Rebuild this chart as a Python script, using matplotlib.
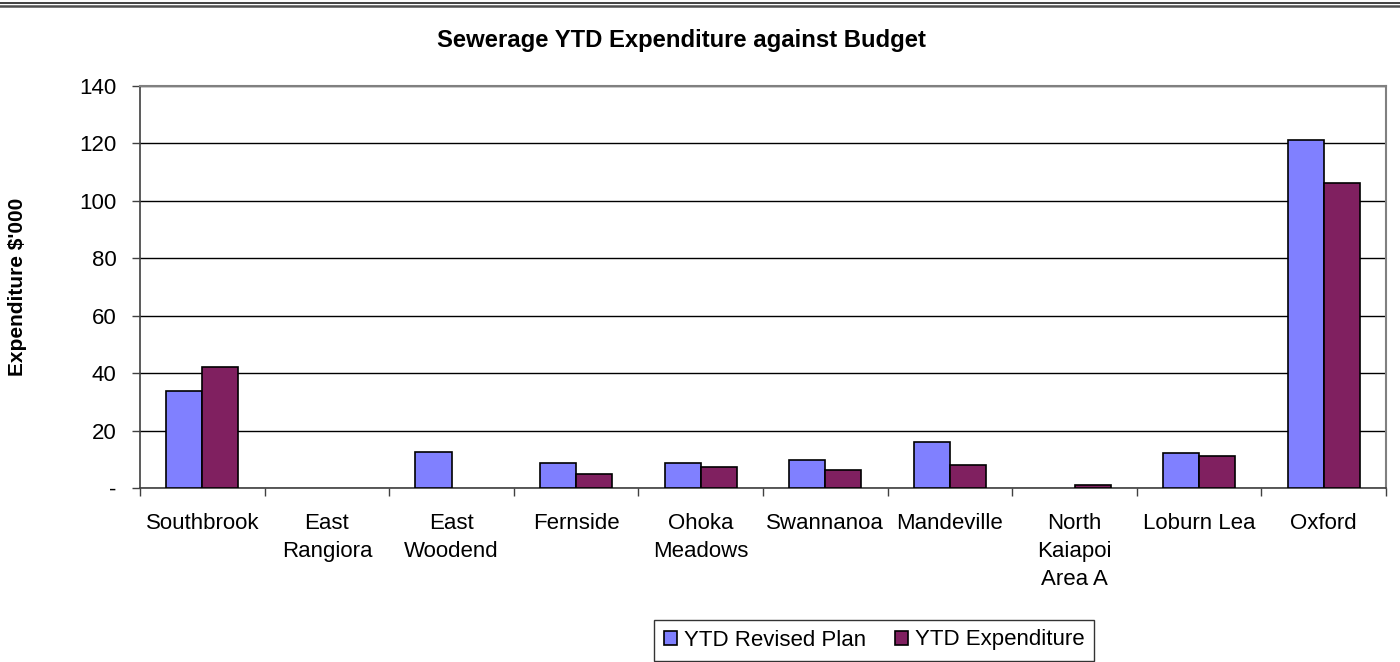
import matplotlib
matplotlib.use("Agg")
import matplotlib.pyplot as plt
import numpy as np
from matplotlib.lines import Line2D

plt.rcParams['font.family'] = ['Liberation Sans', 'DejaVu Sans']

schemes = ["Southbrook", "East\nRangiora", "East\nWoodend", "Fernside", "Ohoka\nMeadows",
           "Swannanoa", "Mandeville", "North\nKaiapoi\nArea A", "Loburn Lea", "Oxford"]
revised_plan = [33.8, 0, 12.5, 8.7, 8.7, 9.8, 16.0, 0, 12.2, 121.2]
expenditure = [42.1, 0, 0, 4.9, 7.3, 6.3, 8.0, 1.0, 11.1, 106.2]
y_ticks = [0, 20, 40, 60, 80, 100, 120, 140]
y_tick_labels = ["-", "20", "40", "60", "80", "100", "120", "140"]

plan_color = "#8080FF"
exp_color = "#802060"

fig = plt.figure(figsize=(14, 6.62), dpi=100)
ax = fig.add_axes([140/1400, 1 - 488/662, (1386 - 140)/1400, (488 - 86)/662])

x = np.arange(len(schemes))
w = 0.29


def draw_series(offset, values, color, label):
    # zero entries get no bar at all (not even an outline)
    vals = np.array(values, dtype=float)
    keep = vals > 0
    ax.bar(x[keep] + offset, vals[keep], width=w, color=color, edgecolor="black",
           linewidth=1.2, label=label, zorder=3)


draw_series(-w/2, revised_plan, plan_color, "YTD Revised Plan")
draw_series(w/2, expenditure, exp_color, "YTD Expenditure")

ax.set_xlim(-0.5, len(schemes) - 0.5)
ax.set_ylim(0, 140)
ax.set_yticks(y_ticks)
ax.set_yticklabels(y_tick_labels, fontsize=16)
ax.yaxis.grid(True, color="black", linewidth=1.0, zorder=0)
ax.set_axisbelow(True)

# category labels centred, ticks on the boundaries
ax.set_xticks(x)
ax.set_xticklabels(schemes, fontsize=16, linespacing=1.45)
ax.tick_params(axis="x", which="major", length=0, pad=18)
ax.set_xticks(np.arange(-0.5, len(schemes) + 0.5, 1), minor=True)
ax.tick_params(axis="x", which="minor", length=6, width=1.0, color="#404040", direction="out")
ax.tick_params(axis="y", length=6, width=1.0, color="#404040", direction="out", pad=11)

for side in ["top", "right"]:
    ax.spines[side].set_color("#808080")
    ax.spines[side].set_linewidth(1.5)
ax.spines["left"].set_color("#404040")
ax.spines["left"].set_linewidth(1.2)
ax.spines["bottom"].set_color("#404040")
ax.spines["bottom"].set_linewidth(1.2)

ax.set_ylabel("Expenditure $'000", fontsize=15, fontweight="bold", labelpad=0)
ax.yaxis.set_label_coords(-113/1246, 0.5)

fig.text(0.4865, 1 - 41/662, "Sewerage YTD Expenditure against Budget", ha="center", va="center",
         fontsize=17.2, fontweight="bold")

# double rule across the top of the figure
fig.add_artist(Line2D([0, 1], [1 - 2.5/662, 1 - 2.5/662], color="#202020", linewidth=1.2))
fig.add_artist(Line2D([0, 1], [1 - 5.5/662, 1 - 5.5/662], color="#505050", linewidth=1.8))

leg = fig.legend(loc="center", bbox_to_anchor=(874/1400, 1 - 640/662), ncol=2, fontsize=16,
                 frameon=True, fancybox=False, edgecolor="black", handlelength=0.6,
                 handleheight=0.6, handletextpad=0.3, columnspacing=1.3, borderpad=0.45,
                 borderaxespad=0)
leg.get_frame().set_linewidth(1.0)

fig.savefig("out.png", dpi=100, facecolor="white")
